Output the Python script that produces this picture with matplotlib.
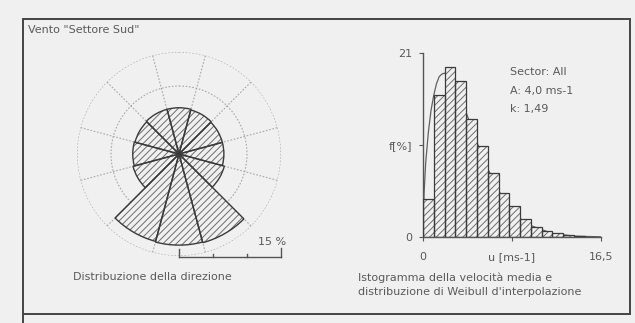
import numpy as np
import matplotlib
matplotlib.use("Agg")
import matplotlib.pyplot as plt
from matplotlib.lines import Line2D
from matplotlib.patches import Rectangle

# wind rose: 12 sectors (deg from north, clockwise), frequency in %
sector_dir = [0, 30, 60, 90, 120, 150, 180, 210, 240, 270, 300, 330]
sector_freq = [6.8, 6.7, 6.6, 6.6, 6.9, 13.5, 13.4, 13.3, 7.0, 6.8, 6.7, 6.8]
rose_rings = [5, 10, 15]

# speed histogram, 1 m/s bins
bin_left = [0, 1, 2, 3, 4, 5, 6, 7, 8, 9, 10, 11, 12, 13, 14, 15]
bin_freq = [4.3, 16.2, 19.4, 17.8, 13.5, 10.4, 7.3, 5.0, 3.5, 2.0, 1.15, 0.65, 0.4, 0.2, 0.1, 0.05]

# weibull curve
curve_u = [0, 0.1, 0.25, 0.5, 0.75, 1.0, 1.25, 1.5, 1.75, 2.0, 2.5, 3.0, 3.5, 4.0, 5.0, 6.0, 7.0, 8.0, 9.0, 10.0, 12.0, 14.0, 16.5]
curve_f = [0, 5.0, 8.5, 12.0, 14.5, 16.2, 17.5, 18.3, 18.6, 18.7, 18.3, 17.2, 15.8, 14.2, 10.8, 7.8, 5.3, 3.4, 2.1, 1.3, 0.4, 0.1, 0.02]

bg = "#f0f0f0"
txt = "#5a5a5a"
W, H = 635, 323
fs = 8

plt.rcParams['hatch.linewidth'] = 0.7
fig = plt.figure(figsize=(W / 100, H / 100), dpi=100, facecolor=bg)

# frame
fig.add_artist(Rectangle((23 / W, 1 - 314 / H), 607 / W, 295 / H, transform=fig.transFigure,
                         fill=False, edgecolor="#444444", lw=1.4))
fig.add_artist(Line2D([23 / W, 23 / W], [0, 1 - 314 / H], transform=fig.transFigure, color="#444444", lw=1.4))
fig.text(28 / W, 1 - 30 / H, 'Vento "Settore Sud"', fontsize=fs, color=txt, va="center")

# ---- wind rose
cx, cy, R = 179, 154, 102
ax = fig.add_axes([(cx - R) / W, 1 - (cy + R) / H, 2 * R / W, 2 * R / H], projection="polar")
ax.set_facecolor("none")
ax.set_theta_zero_location("N")
ax.set_theta_direction(-1)
ax.set_ylim(0, 15)
ax.spines["polar"].set_visible(False)
ax.set_xticks([])
ax.set_yticks([])
ax.grid(False)
th = np.linspace(0, 2 * np.pi, 361)
for r in rose_rings:
    ax.plot(th, [r] * len(th), color="#a8a8a8", lw=0.8, ls=(0, (1.5, 1.5)), zorder=1)
for d in sector_dir:
    a = np.deg2rad(d + 15)
    ax.plot([a, a], [0, 15], color="#a8a8a8", lw=0.8, ls=(0, (1.5, 1.5)), zorder=1)
theta = np.deg2rad(sector_dir)
ax.bar(theta, sector_freq, width=np.deg2rad(30), color=bg, edgecolor="#6e6e6e", hatch="/////",
       lw=0, zorder=2)
ax.bar(theta, sector_freq, width=np.deg2rad(30), fill=False, edgecolor="#3a3a3a", lw=1.0, zorder=3)

# scale bar
sx0, sy = 179, 257
px = R / 15.0
fig.add_artist(Line2D([sx0 / W, (sx0 + 15 * px) / W], [1 - sy / H] * 2, transform=fig.transFigure,
                      color="#555555", lw=1.0))
for v, hgt in [(0, 8), (5, 3), (10, 3), (15, 9)]:
    x = (sx0 + v * px) / W
    fig.add_artist(Line2D([x, x], [1 - sy / H, 1 - (sy - hgt) / H], transform=fig.transFigure,
                          color="#555555", lw=1.0))
fig.text(272 / W, 1 - 242 / H, "15 %", fontsize=fs, color=txt, ha="center", va="center")
fig.text(73 / W, 1 - 277 / H, "Distribuzione della direzione", fontsize=fs, color=txt, va="center")

# ---- histogram
hx = fig.add_axes([423 / W, 1 - 237 / H, 178 / W, 184 / H])
hx.set_facecolor("none")
hx.set_xlim(0, 16.5)
hx.set_ylim(0, 21)
hx.plot(curve_u, curve_f, color="#606060", lw=0.9, zorder=1)
hx.bar(bin_left, bin_freq, width=1.0, align="edge", color=bg, edgecolor="#6e6e6e", hatch="/////",
       lw=0, zorder=2)
hx.bar(bin_left, bin_freq, width=1.0, align="edge", fill=False, edgecolor="#3a3a3a", lw=0.9, zorder=3)
for s in ["top", "right"]:
    hx.spines[s].set_visible(False)
for s in ["left", "bottom"]:
    hx.spines[s].set_color("#555555")
    hx.spines[s].set_linewidth(1.0)
hx.set_yticks([0, 10.5, 21])
hx.set_yticklabels(["0", "f[%]", "21"])
hx.set_xticks([0, 8.25, 16.5])
hx.set_xticklabels(["0", "u [ms-1]", "16,5"])
hx.tick_params(labelsize=fs, colors="#555555", labelcolor=txt, length=3, width=0.8)
hx.tick_params(axis="x", pad=8)
hx.tick_params(axis="y", pad=5)
fig.text(510 / W, 1 - 72 / H, "Sector: All", fontsize=fs, color=txt, va="center")
fig.text(510 / W, 1 - 91 / H, "A: 4,0 ms-1", fontsize=fs, color=txt, va="center")
fig.text(510 / W, 1 - 109 / H, "k: 1,49", fontsize=fs, color=txt, va="center")
fig.text(358 / W, 1 - 278 / H, "Istogramma della velocità media e", fontsize=fs, color=txt, va="center")
fig.text(358 / W, 1 - 292 / H, "distribuzione di Weibull d'interpolazione", fontsize=fs, color=txt,
         va="center")

fig.savefig("out.png", dpi=100, facecolor=bg)
